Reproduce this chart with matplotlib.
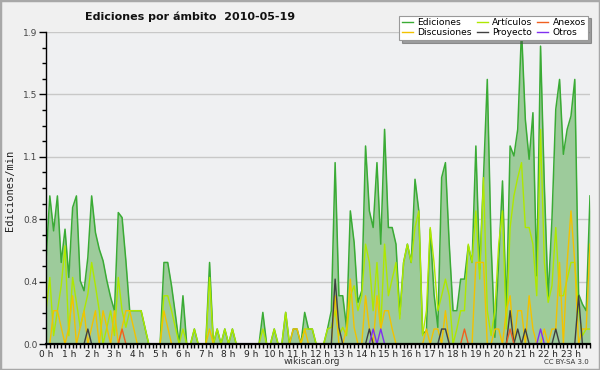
import matplotlib
matplotlib.use('Agg')
import matplotlib.pyplot as plt
from matplotlib.lines import Line2D
from matplotlib.patches import Rectangle
import numpy as np

# 10-minute slots, 144 per day; rates in edits/min
hour_labels = [f"{h} h" for h in range(24)]
ediciones = [
    0.50, 0.89, 0.68, 0.89, 0.49, 0.69,
    0.40, 0.82, 0.89, 0.38, 0.32, 0.52,
    0.89, 0.67, 0.57, 0.50, 0.38, 0.28,
    0.20, 0.79, 0.76, 0.50, 0.20, 0.20,
    0.20, 0.20, 0.10, 0.00, 0.00, 0.00,
    0.00, 0.49, 0.49, 0.35, 0.18, 0.00,
    0.29, 0.00, 0.00, 0.09, 0.00, 0.00,
    0.00, 0.49, 0.00, 0.09, 0.00, 0.09,
    0.00, 0.09, 0.00, 0.00, 0.00, 0.00,
    0.00, 0.00, 0.00, 0.19, 0.00, 0.00,
    0.09, 0.00, 0.00, 0.19, 0.00, 0.09,
    0.09, 0.00, 0.19, 0.09, 0.09, 0.00,
    0.00, 0.00, 0.09, 0.20, 1.09, 0.29,
    0.29, 0.10, 0.80, 0.61, 0.25, 0.32,
    1.19, 0.80, 0.70, 1.09, 0.60, 1.29,
    0.70, 0.70, 0.60, 0.18, 0.49, 0.60,
    0.49, 0.99, 0.80, 0.06, 0.08, 0.69,
    0.30, 0.10, 1.00, 1.09, 0.60, 0.20,
    0.20, 0.39, 0.39, 0.59, 0.49, 1.19,
    0.45, 1.00, 1.59, 0.60, 0.04, 0.50,
    0.98, 0.20, 1.19, 1.13, 1.29, 1.89,
    1.35, 1.11, 1.39, 0.41, 1.79, 0.95,
    0.28, 0.75, 1.41, 1.59, 1.14, 1.29,
    1.37, 1.59, 0.30, 0.24, 0.20, 0.89,
]
articulos = [
    0.20, 0.40, 0.05, 0.20, 0.35, 0.59,
    0.05, 0.40, 0.25, 0.10, 0.20, 0.30,
    0.49, 0.35, 0.20, 0.00, 0.10, 0.20,
    0.05, 0.40, 0.20, 0.10, 0.20, 0.20,
    0.20, 0.20, 0.10, 0.00, 0.00, 0.00,
    0.00, 0.29, 0.29, 0.20, 0.10, 0.00,
    0.09, 0.00, 0.00, 0.09, 0.00, 0.00,
    0.00, 0.40, 0.00, 0.09, 0.00, 0.09,
    0.00, 0.09, 0.00, 0.00, 0.00, 0.00,
    0.00, 0.00, 0.00, 0.09, 0.00, 0.00,
    0.09, 0.00, 0.00, 0.19, 0.00, 0.00,
    0.00, 0.00, 0.09, 0.09, 0.09, 0.00,
    0.00, 0.00, 0.09, 0.10, 0.20, 0.05,
    0.10, 0.05, 0.29, 0.35, 0.20, 0.29,
    0.60, 0.49, 0.20, 0.49, 0.10, 0.60,
    0.29, 0.39, 0.49, 0.15, 0.49, 0.60,
    0.49, 0.70, 0.80, 0.05, 0.20, 0.70,
    0.49, 0.20, 0.29, 0.39, 0.29, 0.00,
    0.09, 0.20, 0.20, 0.60, 0.49, 0.80,
    0.39, 1.00, 0.20, 0.05, 0.20, 0.60,
    0.80, 0.09, 0.70, 0.89, 1.00, 1.09,
    0.70, 0.70, 0.60, 0.29, 1.29, 0.49,
    0.25, 0.35, 0.70, 0.29, 0.29, 0.39,
    0.49, 0.49, 0.20, 0.05, 0.09, 0.09,
]
discusiones = [
    0.00, 0.00, 0.20, 0.20, 0.10, 0.00,
    0.10, 0.29, 0.00, 0.10, 0.20, 0.00,
    0.10, 0.20, 0.00, 0.20, 0.10, 0.00,
    0.20, 0.00, 0.10, 0.20, 0.20, 0.10,
    0.00, 0.00, 0.00, 0.00, 0.00, 0.00,
    0.00, 0.20, 0.10, 0.00, 0.00, 0.00,
    0.00, 0.00, 0.00, 0.00, 0.00, 0.00,
    0.00, 0.09, 0.00, 0.00, 0.00, 0.00,
    0.00, 0.00, 0.00, 0.00, 0.00, 0.00,
    0.00, 0.00, 0.00, 0.00, 0.00, 0.00,
    0.00, 0.00, 0.00, 0.00, 0.00, 0.09,
    0.09, 0.00, 0.09, 0.00, 0.00, 0.00,
    0.00, 0.00, 0.00, 0.00, 0.29, 0.00,
    0.00, 0.09, 0.39, 0.10, 0.00, 0.00,
    0.29, 0.09, 0.00, 0.29, 0.09, 0.20,
    0.20, 0.09, 0.00, 0.00, 0.00, 0.00,
    0.00, 0.00, 0.00, 0.00, 0.09, 0.00,
    0.09, 0.09, 0.00, 0.20, 0.00, 0.00,
    0.00, 0.00, 0.00, 0.00, 0.00, 0.49,
    0.49, 0.49, 0.00, 0.00, 0.09, 0.09,
    0.00, 0.20, 0.29, 0.00, 0.20, 0.20,
    0.00, 0.29, 0.09, 0.00, 0.00, 0.09,
    0.00, 0.09, 0.09, 0.49, 0.00, 0.49,
    0.80, 0.49, 0.00, 0.09, 0.09, 0.60,
]
# sparse series: slot -> value
proyecto_pts = {11: 0.09, 76: 0.39, 77: 0.10, 85: 0.09, 104: 0.09, 105: 0.09,
                122: 0.20, 124: 0.09, 126: 0.09, 134: 0.09, 140: 0.29}
anexos_pts = {20: 0.09, 110: 0.09, 122: 0.09}
otros_pts = {86: 0.09, 88: 0.09, 130: 0.09}

n = len(ediciones)
proyecto = [proyecto_pts.get(i, 0.0) for i in range(n)]
anexos = [anexos_pts.get(i, 0.0) for i in range(n)]
otros = [otros_pts.get(i, 0.0) for i in range(n)]

C_ED = '#3aab35'
C_FILL = '#9dcb9b'
C_ART = '#aee800'
C_DIS = '#f2c200'
C_PRO = '#404040'
C_ANE = '#f06020'
C_OTR = '#8030f0'

fig = plt.figure(figsize=(6, 3.7), dpi=100, facecolor='#f0f0f0')
ax = fig.add_axes([46/600, 26/370, 544/600, 312/370], facecolor='#eff0f2')
x = np.arange(n)

ax.fill_between(x, ediciones, 0, color=C_FILL, lw=0, zorder=1)
ax.plot(x, ediciones, color=C_ED, lw=1.1, zorder=3)
ax.plot(x, articulos, color=C_ART, lw=1.0, zorder=4)
ax.plot(x, discusiones, color=C_DIS, lw=1.0, zorder=4)
ax.plot(x, proyecto, color=C_PRO, lw=1.0, zorder=5)
ax.plot(x, anexos, color=C_ANE, lw=1.0, zorder=5)
ax.plot(x, otros, color=C_OTR, lw=1.0, zorder=5)

ax.set_xlim(0, n - 1)
ymax = 1.875
ax.set_ylim(0, ymax)
yt = np.linspace(0, ymax, 6)
ax.set_yticks(yt)
ax.set_yticklabels(['0.0', '0.4', '0.8', '1.1', '1.5', '1.9'])
ax.set_yticks(np.linspace(0, ymax, 21), minor=True)
ax.set_xticks(np.arange(0, n, 6))
ax.set_xticklabels(hour_labels)
ax.set_xticks(np.arange(0, n), minor=True)

ax.grid(axis='y', which='major', color='#c8c8c8', lw=1, zorder=0)
ax.set_axisbelow(True)
for s in ['top', 'right']:
    ax.spines[s].set_visible(False)
ax.spines['left'].set_linewidth(1.0)
ax.spines['bottom'].set_linewidth(1.6)
ax.spines['left'].set_zorder(6)
ax.spines['bottom'].set_zorder(6)

ax.tick_params(axis='y', which='major', length=5, width=1, labelsize=6.5, colors='#000', labelcolor='#444', pad=1)
ax.tick_params(axis='y', which='minor', length=3, width=1)
ax.tick_params(axis='x', which='both', length=3, width=1, labelsize=6.5, labelcolor='#222', pad=1)

fig.text(85/600, 1 - 17/370, 'Ediciones por ámbito  2010-05-19', fontsize=8,
         fontweight='bold', ha='left', va='center', color='#111')
fig.text(10/600, 1 - 190/370, 'Ediciones/min', rotation=90, fontsize=7.5,
         family='DejaVu Sans Mono', ha='center', va='center', color='#222')
fig.text(312/600, 1 - 362/370, 'wikiscan.org', fontsize=6.5, ha='center', va='center', color='#333')
fig.text(589/600, 1 - 362/370, 'CC BY-SA 3.0', fontsize=5, ha='right', va='center', color='#333')

handles = [Line2D([], [], color=C_ED, lw=1), Line2D([], [], color=C_DIS, lw=1),
           Line2D([], [], color=C_ART, lw=1), Line2D([], [], color=C_PRO, lw=1),
           Line2D([], [], color=C_ANE, lw=1), Line2D([], [], color=C_OTR, lw=1)]
labels = ['Ediciones', 'Discusiones', 'Artículos', 'Proyecto', 'Anexos', 'Otros']
leg = fig.legend(handles, labels, ncol=3, loc='upper right',
                 bbox_to_anchor=(593/600, 1 - 11/370), fontsize=6.6, frameon=True,
                 fancybox=False, shadow=True, edgecolor='#999999', framealpha=1,
                 handlelength=1.2, handletextpad=0.5, columnspacing=0.5,
                 labelspacing=0.1, borderpad=0.3)
leg.get_frame().set_linewidth(0.8)

fig.patches.append(Rectangle((0, 0), 1, 1, transform=fig.transFigure, fill=False,
                             edgecolor='#a8a8a8', lw=2.5))

fig.savefig('out.png', dpi=100, facecolor=fig.get_facecolor())
